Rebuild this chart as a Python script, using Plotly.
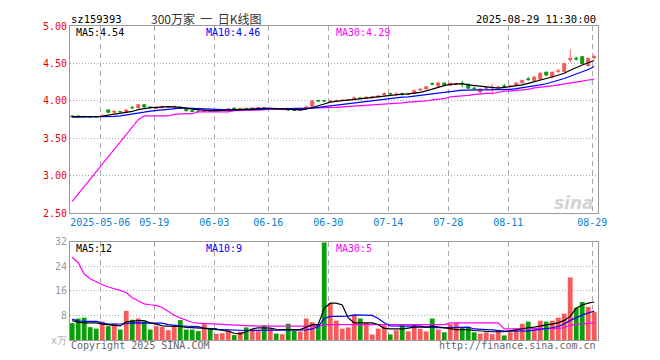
import plotly.graph_objects as go
from plotly.subplots import make_subplots

dates = ["04-24", "04-25", "04-28", "04-29", "04-30",
         "05-06", "05-07", "05-08", "05-09", "05-12", "05-13", "05-14", "05-15", "05-16",
         "05-19", "05-20", "05-21", "05-22", "05-23", "05-26", "05-27", "05-28", "05-29", "05-30",
         "06-03", "06-04", "06-05", "06-06", "06-09", "06-10", "06-11", "06-12", "06-13",
         "06-16", "06-17", "06-18", "06-19", "06-20", "06-23", "06-24", "06-25", "06-26", "06-27",
         "06-30", "07-01", "07-02", "07-03", "07-04", "07-07", "07-08", "07-09", "07-10", "07-11",
         "07-14", "07-15", "07-16", "07-17", "07-18", "07-21", "07-22", "07-23", "07-24", "07-25",
         "07-28", "07-29", "07-30", "07-31", "08-01", "08-04", "08-05", "08-06", "08-07", "08-08",
         "08-11", "08-12", "08-13", "08-14", "08-15", "08-18", "08-19", "08-20", "08-21", "08-22",
         "08-25", "08-26", "08-27", "08-28", "08-29"]

tick_dates = ["05-06", "05-19", "06-03", "06-16", "06-30", "07-14", "07-28", "08-11", "08-29"]
tick_labels = ["2025-05-06", "05-19", "06-03", "06-16", "06-30", "07-14", "07-28", "08-11", "08-29"]

opens = [3.80, 3.80, 3.795, 3.79, 3.79, 3.79, 3.88, 3.85, 3.86, 3.85,
         3.915, 3.91, 3.95, 3.92, 3.90, 3.91, 3.92, 3.92, 3.92, 3.89,
         3.87, 3.865, 3.86, 3.875, 3.87, 3.875, 3.88, 3.905, 3.89, 3.90,
         3.89, 3.90, 3.91, 3.895, 3.90, 3.885, 3.885, 3.885, 3.875, 3.90,
         3.93, 4.005, 4.005, 3.995, 4.00, 4.005, 4.01, 4.025, 4.04, 4.035,
         4.04, 4.055, 4.085, 4.10, 4.085, 4.095, 4.085, 4.10, 4.145, 4.16,
         4.23, 4.20, 4.24, 4.21, 4.22, 4.235, 4.225, 4.17, 4.12, 4.17,
         4.175, 4.18, 4.20, 4.19, 4.21, 4.24, 4.295, 4.27, 4.29, 4.385,
         4.32, 4.39, 4.39, 4.55, 4.57, 4.59, 4.47, 4.575]
highs = [3.81, 3.81, 3.80, 3.80, 3.80, 3.81, 3.885, 3.88, 3.865, 3.89,
         3.93, 3.96, 3.96, 3.93, 3.92, 3.93, 3.935, 3.94, 3.925, 3.895,
         3.875, 3.87, 3.88, 3.88, 3.885, 3.895, 3.90, 3.91, 3.905, 3.905,
         3.91, 3.915, 3.915, 3.905, 3.905, 3.895, 3.89, 3.89, 3.89, 3.94,
         4.01, 4.01, 4.01, 4.01, 4.02, 4.02, 4.025, 4.06, 4.05, 4.055,
         4.06, 4.08, 4.12, 4.11, 4.12, 4.11, 4.10, 4.15, 4.17, 4.20,
         4.25, 4.26, 4.245, 4.245, 4.24, 4.27, 4.23, 4.19, 4.165, 4.20,
         4.23, 4.20, 4.23, 4.21, 4.25, 4.28, 4.32, 4.325, 4.38, 4.39,
         4.39, 4.43, 4.50, 4.69, 4.59, 4.60, 4.58, 4.62]
lows = [3.78, 3.78, 3.78, 3.78, 3.78, 3.78, 3.84, 3.83, 3.845, 3.85,
        3.89, 3.90, 3.91, 3.90, 3.90, 3.905, 3.91, 3.90, 3.90, 3.86,
        3.85, 3.85, 3.855, 3.86, 3.865, 3.87, 3.875, 3.885, 3.885, 3.885,
        3.885, 3.895, 3.89, 3.89, 3.885, 3.875, 3.87, 3.87, 3.87, 3.895,
        3.93, 3.99, 3.99, 3.99, 3.995, 4.00, 4.005, 4.02, 4.02, 4.03,
        4.035, 4.05, 4.07, 4.08, 4.07, 4.07, 4.08, 4.095, 4.14, 4.155,
        4.21, 4.19, 4.21, 4.20, 4.21, 4.18, 4.16, 4.15, 4.09, 4.16,
        4.09, 4.17, 4.18, 4.185, 4.20, 4.235, 4.27, 4.265, 4.285, 4.33,
        4.31, 4.38, 4.385, 4.51, 4.54, 4.49, 4.46, 4.56]
closes = [3.79, 3.79, 3.79, 3.785, 3.785, 3.81, 3.85, 3.86, 3.855, 3.88,
          3.91, 3.95, 3.92, 3.91, 3.915, 3.93, 3.925, 3.925, 3.905, 3.87,
          3.86, 3.86, 3.87, 3.87, 3.875, 3.885, 3.895, 3.89, 3.90, 3.895,
          3.905, 3.91, 3.895, 3.90, 3.89, 3.89, 3.88, 3.875, 3.88, 3.92,
          4.00, 4.00, 4.00, 4.00, 4.005, 4.01, 4.02, 4.04, 4.035, 4.05,
          4.055, 4.065, 4.095, 4.095, 4.09, 4.09, 4.095, 4.14, 4.155, 4.19,
          4.225, 4.24, 4.215, 4.235, 4.235, 4.225, 4.17, 4.165, 4.16, 4.175,
          4.18, 4.185, 4.19, 4.20, 4.24, 4.275, 4.285, 4.32, 4.37, 4.345,
          4.385, 4.40, 4.50, 4.565, 4.56, 4.50, 4.57, 4.59]

ma5 = [3.79, 3.79, 3.79, 3.79, 3.79, 3.795, 3.81, 3.82, 3.83, 3.845,
       3.86, 3.885, 3.90, 3.91, 3.915, 3.92, 3.925, 3.92, 3.915, 3.905,
       3.89, 3.88, 3.875, 3.87, 3.87, 3.875, 3.88, 3.885, 3.89, 3.895,
       3.895, 3.90, 3.90, 3.90, 3.90, 3.895, 3.89, 3.885, 3.88, 3.89,
       3.91, 3.935, 3.96, 3.985, 4.00, 4.005, 4.01, 4.02, 4.025, 4.035,
       4.045, 4.05, 4.065, 4.075, 4.085, 4.09, 4.095, 4.10, 4.115, 4.135,
       4.16, 4.19, 4.205, 4.22, 4.23, 4.23, 4.215, 4.205, 4.19, 4.18,
       4.17, 4.17, 4.18, 4.19, 4.20, 4.215, 4.235, 4.26, 4.28, 4.30,
       4.32, 4.345, 4.37, 4.41, 4.45, 4.48, 4.51, 4.54]
ma10 = [3.785, 3.785, 3.785, 3.785, 3.785, 3.785, 3.79, 3.795, 3.80, 3.81,
        3.82, 3.835, 3.85, 3.865, 3.875, 3.885, 3.895, 3.90, 3.905, 3.905,
        3.905, 3.90, 3.895, 3.89, 3.885, 3.88, 3.88, 3.88, 3.88, 3.88,
        3.885, 3.89, 3.89, 3.895, 3.895, 3.895, 3.895, 3.895, 3.895, 3.895,
        3.905, 3.915, 3.925, 3.935, 3.945, 3.955, 3.965, 3.975, 3.99, 4.00,
        4.01, 4.02, 4.025, 4.035, 4.04, 4.05, 4.055, 4.065, 4.075, 4.09,
        4.10, 4.115, 4.125, 4.135, 4.14, 4.145, 4.145, 4.145, 4.145, 4.145,
        4.145, 4.145, 4.15, 4.155, 4.165, 4.175, 4.185, 4.20, 4.215, 4.23,
        4.25, 4.275, 4.30, 4.33, 4.36, 4.385, 4.42, 4.46]
ma30 = [2.66, 2.76, 2.86, 2.96, 3.06, 3.16, 3.26, 3.36, 3.46, 3.56,
        3.66, 3.75, 3.80, 3.80, 3.80, 3.80, 3.80, 3.82, 3.83, 3.83,
        3.83, 3.855, 3.855, 3.855, 3.855, 3.855, 3.855, 3.87, 3.87, 3.87,
        3.87, 3.88, 3.88, 3.89, 3.89, 3.89, 3.89, 3.89, 3.89, 3.905,
        3.905, 3.905, 3.905, 3.91, 3.915, 3.92, 3.925, 3.93, 3.935, 3.94,
        3.95, 3.952, 3.955, 3.965, 3.967, 3.975, 3.985, 3.987, 3.99, 4.00,
        4.015, 4.018, 4.03, 4.055, 4.06, 4.065, 4.075, 4.085, 4.095, 4.10,
        4.10, 4.12, 4.13, 4.135, 4.14, 4.148, 4.155, 4.175, 4.18, 4.185,
        4.20, 4.215, 4.225, 4.235, 4.25, 4.265, 4.28, 4.29]

volume = [5.5, 7.0, 7.3, 4.2, 3.7, 6.0, 4.5, 5.3, 3.4, 9.5,
          6.6, 7.0, 6.1, 3.4, 4.5, 4.2, 3.2, 4.5, 6.5, 3.4,
          3.4, 2.9, 5.2, 3.7, 2.0, 2.2, 3.1, 1.6, 2.7, 4.1,
          3.6, 2.9, 4.8, 3.7, 2.1, 1.9, 5.3, 3.0, 2.8, 7.0,
          5.8, 4.9, 31.8, 12.0, 6.3, 3.7, 4.1, 8.2, 7.0, 5.6,
          1.8, 3.7, 4.8, 1.8, 3.2, 4.8, 2.8, 5.2, 3.6, 2.8,
          7.0, 3.4, 2.5, 5.2, 5.6, 4.0, 4.3, 2.5, 2.1, 2.5,
          1.9, 2.9, 1.5, 2.5, 3.4, 5.3, 6.0, 3.4, 6.3, 6.0,
          6.3, 7.3, 8.6, 20.4, 10.5, 12.4, 10.8, 9.1]
vol_up = ["G", "G", "G", "G", "G", "R", "G", "R", "G", "R",
          "G", "R", "G", "G", "R", "R", "R", "R", "G", "G",
          "G", "G", "R", "G", "R", "R", "R", "G", "R", "G",
          "R", "R", "G", "R", "G", "R", "G", "G", "R", "R",
          "R", "G", "G", "R", "R", "R", "R", "R", "G", "R",
          "R", "R", "R", "G", "R", "G", "R", "R", "R", "R",
          "G", "R", "G", "R", "R", "G", "G", "G", "R", "R",
          "R", "R", "G", "R", "R", "R", "G", "R", "R", "G",
          "R", "R", "R", "R", "G", "G", "R", "R"]
vma5 = [6.3, 5.8, 5.6, 5.6, 5.6, 5.2, 5.0, 5.0, 4.6, 5.9,
        6.2, 6.3, 6.3, 5.6, 5.2, 4.6, 4.5, 4.5, 4.4, 4.1,
        4.0, 4.0, 4.0, 3.9, 3.6, 3.1, 2.9, 2.2, 2.0, 2.7,
        3.6, 4.0, 4.0, 3.9, 3.5, 3.4, 3.4, 3.4, 3.4, 4.2,
        5.0, 5.0, 10.3, 12.0, 12.0, 11.4, 7.2, 5.6, 5.6, 5.6,
        5.6, 5.0, 3.8, 3.6, 3.6, 3.6, 3.9, 4.2, 4.2, 4.2,
        4.5, 4.3, 4.0, 3.7, 3.4, 3.4, 3.4, 3.1, 2.9, 2.7,
        2.7, 2.7, 2.7, 3.0, 3.4, 3.7, 4.0, 4.2, 4.6, 5.0,
        5.3, 5.6, 6.4, 7.7, 10.4, 11.4, 12.0, 12.4]
vma10 = [6.8, 6.2, 6.1, 6.1, 6.1, 5.6, 5.2, 5.2, 5.2, 5.3,
         5.6, 5.6, 5.6, 5.6, 5.6, 5.5, 5.0, 4.7, 4.6, 4.5,
         4.5, 4.4, 3.8, 3.5, 3.4, 3.4, 3.3, 3.1, 3.1, 3.1,
         3.1, 3.1, 3.1, 3.1, 3.1, 3.1, 3.1, 3.2, 3.2, 3.3,
         3.6, 4.4, 7.0, 7.7, 7.7, 7.7, 7.8, 8.2, 8.2, 8.2,
         8.0, 7.0, 5.6, 4.6, 4.5, 4.5, 4.5, 4.5, 4.5, 4.2,
         4.0, 4.0, 4.0, 4.1, 4.2, 4.2, 4.2, 3.6, 3.4, 3.4,
         3.3, 3.0, 2.9, 2.9, 2.9, 2.9, 3.0, 3.2, 3.4, 3.7,
         4.0, 4.4, 5.2, 6.4, 7.3, 8.1, 8.8, 9.4]
vma30 = [27.0, 25.2, 21.5, 20.0, 19.0, 18.0, 17.3, 16.8, 16.2, 15.5,
         13.8, 12.8, 11.8, 11.5, 11.3, 10.6, 9.2, 8.1, 7.2, 6.4,
         5.7, 5.5, 5.4, 5.2, 5.0, 4.9, 4.8, 4.7, 4.6, 4.5,
         4.5, 4.5, 4.5, 4.5, 4.5, 4.5, 4.5, 4.5, 4.5, 4.5,
         4.5, 4.5, 5.0, 5.0, 5.0, 5.0, 5.0, 5.0, 5.0, 5.0,
         5.0, 5.0, 5.0, 5.0, 5.0, 5.0, 5.0, 5.0, 5.0, 5.0,
         5.0, 5.0, 5.0, 5.6, 5.6, 5.6, 5.6, 5.6, 5.6, 5.6,
         5.6, 5.6, 3.6, 3.6, 3.6, 3.6, 3.6, 3.6, 3.6, 3.6,
         3.6, 3.8, 4.0, 4.8, 5.1, 5.3, 5.5, 5.6]

RED = "#f75a5a"
GREEN = "#0a9e0a"
MONO = "DejaVu Sans Mono"
GRID = "#aaaaaa"

x = list(range(len(dates)))
tickvals = [dates.index(d) - 0.33 for d in tick_dates]

fig = make_subplots(rows=2, cols=1, shared_xaxes=False, vertical_spacing=0.0)

fig.add_trace(go.Candlestick(
    x=x, open=opens, high=highs, low=lows, close=closes,
    increasing=dict(line=dict(color=RED, width=1), fillcolor=RED),
    decreasing=dict(line=dict(color=GREEN, width=1), fillcolor=GREEN),
    whiskerwidth=0, hoverinfo="skip", showlegend=False), row=1, col=1)
for series, col in [(ma30, "#ff00ff"), (ma10, "#0000ff"), (ma5, "#000000")]:
    fig.add_trace(go.Scatter(x=x, y=series, mode="lines", line=dict(color=col, width=1.2),
                             hoverinfo="skip", showlegend=False), row=1, col=1)

fig.add_trace(go.Bar(x=x, y=volume, marker=dict(color=[RED if c == "R" else GREEN for c in vol_up], line=dict(width=0)),
                     width=0.8, hoverinfo="skip", showlegend=False), row=2, col=1)
for series, col in [(vma30, "#ff00ff"), (vma10, "#0000ff"), (vma5, "#000000")]:
    fig.add_trace(go.Scatter(x=x, y=series, mode="lines", line=dict(color=col, width=1.2),
                             hoverinfo="skip", showlegend=False), row=2, col=1)

xr = [-0.37, len(dates) - 1 + 0.63]
common_x = dict(range=xr, tickmode="array", tickvals=tickvals, showgrid=True, gridcolor=GRID,
                griddash="5px,4px", gridwidth=1, showline=True, linecolor="#999999", mirror=True,
                ticks="", zeroline=False, fixedrange=True)
fig.update_xaxes(**common_x, ticktext=tick_labels, showticklabels=True,
                 tickfont=dict(family=MONO, size=10, color="#0a80d0"),
                 rangeslider=dict(visible=False), row=1, col=1)
fig.update_xaxes(**common_x, showticklabels=False, row=2, col=1)

fig.update_yaxes(range=[2.5, 5.0], tickmode="array", tickvals=[2.5, 3.0, 3.5, 4.0, 4.5, 5.0],
                 ticktext=["2.50", "3.00", "3.50", "4.00", "4.50", "5.00"],
                 tickfont=dict(family=MONO, size=10, color="#ee0000"),
                 showgrid=True, gridcolor=GRID, griddash="1px,2px", showline=True,
                 linecolor="#999999", mirror=True, zeroline=False, ticks="", row=1, col=1)
fig.update_yaxes(range=[0, 32], tickmode="array", tickvals=[8, 16, 24, 32],
                 ticktext=["8", "16", "24", "32"],
                 tickfont=dict(family=MONO, size=10, color="#999999"),
                 showgrid=True, gridcolor=GRID, griddash="1px,2px", showline=True,
                 linecolor="#999999", mirror=True, zeroline=False, ticks="", row=2, col=1)

# The page body has an 8px margin: the figure is drawn from page pixel (8, 8).
OFF = 8
PL, PR, PT, PB = 70, 598, 20, 340   # plot area in page pixels
W, Hh = 660 - OFF, 360 - OFF
H = PB - PT
top_bottom = 211
vol_top = 240
fig.update_layout(
    width=W, height=Hh,
    margin=dict(l=PL - OFF, r=OFF + W - PR, t=PT - OFF, b=OFF + Hh - PB, pad=0),
    paper_bgcolor="white", plot_bgcolor="white",
    xaxis=dict(domain=[0, 1]), xaxis2=dict(domain=[0, 1]),
    yaxis=dict(domain=[(PB - top_bottom) / H, 1.0]),
    yaxis2=dict(domain=[0, (PB - vol_top) / H]),
    showlegend=False,
)


def px_x(px):
    return (px - PL) / (PR - PL)


def px_y(py):
    return (PB - py) / H


def label(text, px, py, color, size=10, family=MONO, xanchor="left"):
    fig.add_annotation(text=text, x=px_x(px), y=px_y(py), xref="paper", yref="paper",
                       xanchor=xanchor, yanchor="middle", showarrow=False,
                       font=dict(family=family, size=size, color=color))


NB = "\u00a0"
label("sz159393", 69, 13, "#000000", size=10.5)
label("300万家" + NB * 2 + "一" + NB * 2 + "日K线图", 149, 12.5, "#333333", size=12, family="Noto Sans CJK SC")
label("2025-08-29 11:30:00", 598, 13, "#000000", size=10.5, xanchor="right")
label("MA5:4.54", 74, 27, "#000000")
label("MA10:4.46", 204, 27, "#0000ff")
label("MA30:4.29", 334, 27, "#ff00ff")
label("MA5:12", 74, 247, "#000000")
label("MA10:9", 204, 247, "#0000ff")
label("MA30:5", 334, 247, "#ff00ff")
label("x万", 49, 341, "#aaaaaa", size=10)
label("Copyright 2025 SINA.COM", 69, 346, "#666666", size=10)
label("http://finance.sina.com.cn", 598, 346, "#666666", size=10, xanchor="right")
fig.add_annotation(text="<b><i>sina</i></b>", x=px_x(596), y=px_y(200), xref="paper", yref="paper",
                   xanchor="right", yanchor="middle", showarrow=False,
                   font=dict(family="DejaVu Sans", size=17, color="#d4d4d4"))

fig.write_html("out.html")
